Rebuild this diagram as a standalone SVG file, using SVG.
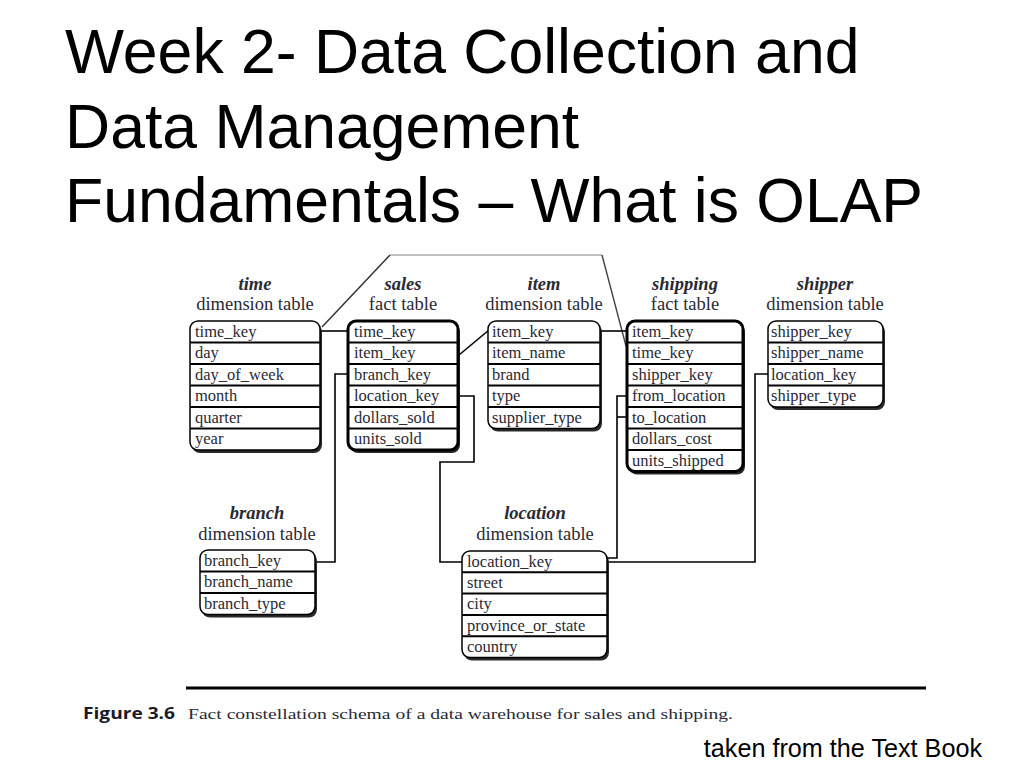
<svg xmlns="http://www.w3.org/2000/svg" width="1024" height="768" viewBox="0 0 1024 768">
<style>
.title{font-family:"Liberation Sans",Arial,sans-serif;font-size:62.5px;fill:#000}
.hdr{font-family:"Liberation Serif","Times New Roman",serif;font-size:18.5px;fill:#2a2a35;text-anchor:middle}
.hi{font-style:italic;font-weight:bold}
.row{font-family:"Liberation Serif","Times New Roman",serif;font-size:16.5px;fill:#2a2a35}
.box{fill:#fff;stroke:#000;stroke-width:1.5}
.fact{fill:#fff;stroke:#000;stroke-width:3}
.shadow{fill:#2a2a2a}
.div{stroke:#000;stroke-width:2}
.conn{fill:none;stroke:#000;stroke-width:1.6}
.note{font-family:"Liberation Sans",Arial,sans-serif;font-size:25.2px;fill:#000}
</style>
<g id="title">
<text class="title" x="65" y="73">Week 2- Data Collection and</text>
<text class="title" x="65" y="148">Data Management</text>
<text class="title" x="65" y="222">Fundamentals – What is OLAP</text>
</g>
<g id="connectors">
<path class="conn" d="M320,331 H348"/>
<path fill="none" stroke="#333" stroke-width="1.5" d="M322,327 L390,255"/>
<path fill="none" stroke="#aaa" stroke-width="1.5" d="M390,255 H602"/>
<path fill="none" stroke="#444" stroke-width="1.4" d="M602,255 L626,346"/>
<path class="conn" d="M459,355 L489,330"/>
<path class="conn" d="M600,331 H627"/>
<path class="conn" d="M348,374 H335 V562 H315"/>
<path class="conn" d="M458,396 H474 V462 H440 V562 H462"/>
<path class="conn" d="M627,396 H617 V558 H607"/>
<path class="conn" d="M627,417 H617"/>
<path class="conn" d="M768,374 H755 V562 H607"/>
</g>
<g id="time">
<text class="hdr hi" x="255" y="290">time</text>
<text class="hdr" x="255" y="310">dimension table</text>
<rect class="shadow" x="192" y="324" width="130" height="129" rx="8"/>
<rect class="box" x="190" y="321" width="130" height="129" rx="8"/>
<path class="div" d="M190,342.5 H320 M190,364 H320 M190,385.5 H320 M190,407 H320 M190,428.5 H320"/>
<text class="row" x="195" y="337">time_key</text>
<text class="row" x="195" y="358">day</text>
<text class="row" x="195" y="380">day_of_week</text>
<text class="row" x="195" y="401">month</text>
<text class="row" x="195" y="423">quarter</text>
<text class="row" x="195" y="444">year</text>
</g>
<g id="sales">
<text class="hdr hi" x="403" y="290">sales</text>
<text class="hdr" x="403" y="310">fact table</text>
<rect class="shadow" x="350" y="324" width="110" height="129" rx="8"/>
<rect class="fact" x="348" y="321" width="110" height="129" rx="8"/>
<path class="div" d="M348,342.5 H458 M348,364 H458 M348,385.5 H458 M348,407 H458 M348,428.5 H458"/>
<text class="row" x="354" y="337">time_key</text>
<text class="row" x="354" y="358">item_key</text>
<text class="row" x="354" y="380">branch_key</text>
<text class="row" x="354" y="401">location_key</text>
<text class="row" x="354" y="423">dollars_sold</text>
<text class="row" x="354" y="444">units_sold</text>
</g>
<g id="item">
<text class="hdr hi" x="544" y="290">item</text>
<text class="hdr" x="544" y="310">dimension table</text>
<rect class="shadow" x="490" y="324" width="112" height="107.5" rx="8"/>
<rect class="box" x="488" y="321" width="112" height="107.5" rx="8"/>
<path class="div" d="M488,342.5 H600 M488,364 H600 M488,385.5 H600 M488,407 H600"/>
<text class="row" x="492" y="337">item_key</text>
<text class="row" x="492" y="358">item_name</text>
<text class="row" x="492" y="380">brand</text>
<text class="row" x="492" y="401">type</text>
<text class="row" x="492" y="423">supplier_type</text>
</g>
<g id="shipping">
<text class="hdr hi" x="685" y="290">shipping</text>
<text class="hdr" x="685" y="310">fact table</text>
<rect class="shadow" x="629" y="324" width="116" height="150.5" rx="8"/>
<rect class="fact" x="627" y="321" width="116" height="150.5" rx="8"/>
<path class="div" d="M627,342.5 H743 M627,364 H743 M627,385.5 H743 M627,407 H743 M627,428.5 H743 M627,450 H743"/>
<text class="row" x="632" y="337">item_key</text>
<text class="row" x="632" y="358">time_key</text>
<text class="row" x="632" y="380">shipper_key</text>
<text class="row" x="632" y="401">from_location</text>
<text class="row" x="632" y="423">to_location</text>
<text class="row" x="632" y="444">dollars_cost</text>
<text class="row" x="632" y="466">units_shipped</text>
</g>
<g id="shipper">
<text class="hdr hi" x="825" y="290">shipper</text>
<text class="hdr" x="825" y="310">dimension table</text>
<rect class="shadow" x="770" y="324" width="115" height="86" rx="8"/>
<rect class="box" x="768" y="321" width="115" height="86" rx="8"/>
<path class="div" d="M768,342.5 H883 M768,364 H883 M768,385.5 H883"/>
<text class="row" x="771" y="337">shipper_key</text>
<text class="row" x="771" y="358">shipper_name</text>
<text class="row" x="771" y="380">location_key</text>
<text class="row" x="771" y="401">shipper_type</text>
</g>
<g id="branch">
<text class="hdr hi" x="257" y="519">branch</text>
<text class="hdr" x="257" y="540">dimension table</text>
<rect class="shadow" x="202" y="553" width="115" height="64.5" rx="8"/>
<rect class="box" x="200" y="550" width="115" height="64.5" rx="8"/>
<path class="div" d="M200,571.5 H315 M200,593 H315"/>
<text class="row" x="204" y="566">branch_key</text>
<text class="row" x="204" y="587">branch_name</text>
<text class="row" x="204" y="609">branch_type</text>
</g>
<g id="location">
<text class="hdr hi" x="535" y="519">location</text>
<text class="hdr" x="535" y="540">dimension table</text>
<rect class="shadow" x="464" y="554" width="145" height="106.5" rx="8"/>
<rect class="box" x="462" y="551" width="145" height="106.5" rx="8"/>
<path class="div" d="M462,572.3 H607 M462,593.6 H607 M462,614.9 H607 M462,636.2 H607"/>
<text class="row" x="467" y="567">location_key</text>
<text class="row" x="467" y="588">street</text>
<text class="row" x="467" y="609">city</text>
<text class="row" x="467" y="631">province_or_state</text>
<text class="row" x="467" y="652">country</text>
</g>
<g id="caption">
<path d="M186,688 H926" stroke="#000" stroke-width="3"/>
<text x="83" y="719" font-family="'Open Sans','Liberation Sans',sans-serif" font-weight="bold" font-size="15.5" fill="#1a1a2a" textLength="92" lengthAdjust="spacingAndGlyphs">Figure 3.6</text>
<text x="188" y="719" font-family="'Liberation Serif','Times New Roman',serif" font-size="15.5" fill="#2a2a35" textLength="545" lengthAdjust="spacingAndGlyphs">Fact constellation schema of a data warehouse for sales and shipping.</text>
</g>
<text class="note" x="982" y="757" text-anchor="end">taken from the Text Book</text>
</svg>
